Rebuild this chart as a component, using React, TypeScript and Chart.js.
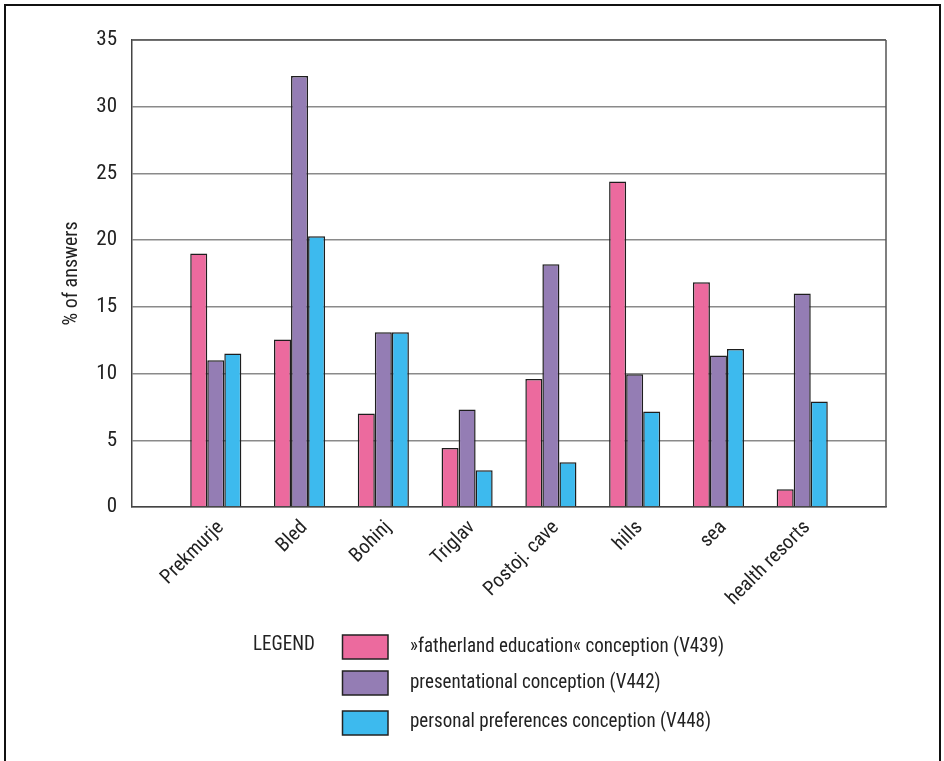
import React, { useEffect, useRef } from "react";
import { Chart, registerables } from "chart.js";

Chart.register(...registerables);

const categories = ["Prekmurje", "Bled", "Bohinj", "Triglav", "Postoj. cave", "hills", "sea", "health resorts"];
const fatherland = [19.0, 12.55, 7.0, 4.43, 9.6, 24.4, 16.85, 1.33];
const presentational = [11.0, 32.3, 13.1, 7.3, 18.2, 9.95, 11.35, 16.0];
const personal = [11.5, 20.3, 13.1, 2.75, 3.35, 7.15, 11.85, 7.9];
const seriesLabels = [
  "»fatherland education« conception (V439)",
  "presentational conception (V442)",
  "personal preferences conception (V448)",
];
const seriesColors = ["#ec6a9e", "#947db4", "#3dbaee"];
const yMin = 0;
const yMax = 35;
const yStep = 5;
const yTitle = "% of answers";
const legendTitle = "LEGEND";

const FONT = '"Liberation Sans Narrow", "Roboto Condensed", "DejaVu Sans Condensed", "Arial Narrow", sans-serif';
const TEXT = "#222222";

function squeezedText(ctx: any, text: string, x: number, y: number, k: number) {
  ctx.save();
  ctx.translate(x, y);
  ctx.scale(k, 1);
  ctx.fillText(text, 0, 0);
  ctx.restore();
}

const framePlugin = {
  id: "frameAndLegend",
  beforeDraw(chart: any) {
    const ctx = chart.ctx;
    ctx.save();
    ctx.fillStyle = "#ffffff";
    ctx.fillRect(0, 0, chart.width, chart.height);
    ctx.restore();
  },
  afterDraw(chart: any) {
    const ctx = chart.ctx;
    const a = chart.chartArea;
    ctx.save();
    // plot frame top & right edge
    ctx.strokeStyle = "#555555";
    ctx.lineWidth = 1.5;
    ctx.beginPath();
    ctx.moveTo(a.right, a.top);
    ctx.lineTo(a.right, a.bottom);
    ctx.moveTo(a.left, a.top);
    ctx.lineTo(a.right, a.top);
    ctx.stroke();
    // outer border
    ctx.strokeStyle = "#111111";
    ctx.lineWidth = 2;
    ctx.strokeRect(5, 5, 935, 800);
    // legend
    ctx.font = `20px ${FONT}`;
    ctx.fillStyle = TEXT;
    ctx.textBaseline = "middle";
    ctx.textAlign = "left";
    squeezedText(ctx, legendTitle, 253, 645, 0.95);
    const boxTops = [635, 671, 711];
    const textYs = [647, 683, 722];
    chart.data.datasets.forEach((ds: any, i: number) => {
      ctx.fillStyle = ds.backgroundColor;
      ctx.fillRect(342.5, boxTops[i], 45.5, 24);
      ctx.strokeStyle = "#222222";
      ctx.lineWidth = 1.5;
      ctx.strokeRect(342.5, boxTops[i], 45.5, 24);
      ctx.fillStyle = TEXT;
      squeezedText(ctx, ds.label, 410, textYs[i], 0.95);
    });
    ctx.restore();
  },
};

export default function App() {
  const ref = useRef<HTMLCanvasElement>(null);
  useEffect(() => {
    if (!ref.current) return;
    const labels = ["", ...categories, ""];
    const pad = (arr: number[]) => [null, ...arr, null];
    const chart = new Chart(ref.current, {
      type: "bar",
      data: {
        labels,
        datasets: [fatherland, presentational, personal].map((d, i) => ({
          label: seriesLabels[i],
          data: pad(d) as any,
          backgroundColor: seriesColors[i],
          borderColor: "#1e1e1e",
          borderWidth: 1.5,
          categoryPercentage: 0.61,
          barPercentage: 1.0,
        })),
      },
      options: {
        responsive: false,
        animation: false,
        devicePixelRatio: 1,
        layout: { padding: { left: 0, top: 40, right: 58, bottom: 0 } },
        plugins: { legend: { display: false }, tooltip: { enabled: false } },
        scales: {
          x: {
            offset: false,
            grid: { display: false, drawTicks: false },
            border: { display: true, color: "#444444", width: 1.5 },
            ticks: {
              autoSkip: false,
              minRotation: 45,
              maxRotation: 45,
              padding: 9,
              labelOffset: 5,
              color: TEXT,
              font: { family: FONT, size: 20 },
            },
            afterFit: (scale: any) => {
              scale.height = 254;
            },
          },
          y: {
            min: yMin,
            max: yMax,
            ticks: {
              stepSize: yStep,
              padding: 15,
              color: TEXT,
              font: { family: FONT, size: 21 },
            },
            grid: { color: "#8a8a8a", lineWidth: 1.5, drawTicks: false },
            border: { display: true, color: "#444444", width: 1.5 },
            title: {
              display: true,
              text: yTitle,
              color: TEXT,
              font: { family: FONT, size: 20 },
              padding: { top: 60, bottom: 0 },
            },
            afterFit: (scale: any) => {
              scale.width = 132;
            },
          },
        },
      },
      plugins: [framePlugin],
    });
    return () => chart.destroy();
  }, []);
  return (
    <div style={{ position: "absolute", left: 0, top: 0, width: 944, height: 761 }}>
      <canvas ref={ref} width={944} height={761} style={{ width: 944, height: 761 }} />
    </div>
  );
}
